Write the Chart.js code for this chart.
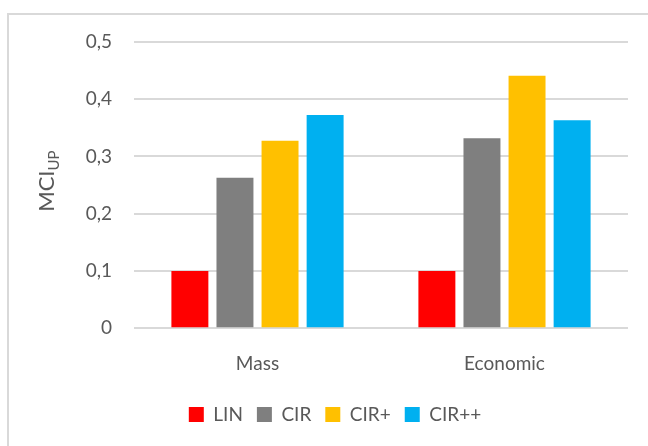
<!DOCTYPE html>
<html>
<head>
<meta charset="utf-8">
<script src="https://cdn.jsdelivr.net/npm/chart.js@4"></script>
<style>
  html,body{margin:0;padding:0;background:#fff;overflow:hidden}
  #wrap{position:relative;width:648px;height:446px}
  #frame{position:absolute;left:7px;top:13px;width:660px;height:460px;border:2px solid #d9d9d9;box-sizing:border-box}
  canvas{position:absolute;left:0;top:0}
</style>
</head>
<body>
<div id="wrap">
  <div id="frame"></div>
  <canvas id="chart" width="648" height="446"></canvas>
</div>
<script>
// datos
const categories = ["Mass", "Economic"];
const seriesNames = ["LIN", "CIR", "CIR+", "CIR++"];
const linVals = [0.1, 0.1];
const cirVals = [0.263, 0.332];
const cirPlusVals = [0.3275, 0.441];
const cirPPVals = [0.3725, 0.3635];
const yTickLabels = ["0", "0,1", "0,2", "0,3", "0,4", "0,5"];

const colors = ["#FF0000", "#7F7F7F", "#FFC000", "#00B0F0"];
const txt = "#595959";
const font = "Lato";

// titulo del eje y con subindice
const yTitle = {
  id: "yTitle",
  afterDraw(chart){
    const c = chart.ctx, a = chart.chartArea;
    c.save();
    c.translate(54, (a.top + a.bottom) / 2 - 4);
    c.rotate(-Math.PI / 2);
    c.fillStyle = txt;
    c.textBaseline = "alphabetic";
    c.font = "22px " + font;
    const w1 = c.measureText("MCI").width;
    c.font = "15px " + font;
    const w2 = c.measureText("UP").width;
    const x0 = -(w1 + w2) / 2;
    c.font = "22px " + font;
    c.fillText("MCI", x0, 0);
    c.font = "15px " + font;
    c.fillText("UP", x0 + w1, 5);
    c.restore();
  }
};

new Chart(document.getElementById("chart").getContext("2d"), {
  type: "bar",
  data: {
    labels: categories,
    datasets: [
      {label: seriesNames[0], data: linVals, backgroundColor: colors[0]},
      {label: seriesNames[1], data: cirVals, backgroundColor: colors[1]},
      {label: seriesNames[2], data: cirPlusVals, backgroundColor: colors[2]},
      {label: seriesNames[3], data: cirPPVals, backgroundColor: colors[3]}
    ]
  },
  options: {
    responsive: false,
    animation: false,
    layout: {padding: {left: 42, right: 20, top: 42, bottom: 12}},
    datasets: {bar: {barPercentage: 0.82, categoryPercentage: 0.73}},
    plugins: {
      tooltip: {enabled: false},
      legend: {
        position: "bottom",
        labels: {
          boxWidth: 15, boxHeight: 15, padding: 14,
          color: txt, font: {family: font, size: 19}
        }
      }
    },
    scales: {
      x: {
        grid: {display: false},
        border: {display: false},
        ticks: {color: txt, font: {family: font, size: 19}, padding: 16}
      },
      y: {
        min: 0, max: 0.5,
        afterFit(s){ s.width = 92; },
        grid: {color: "#d9d9d9", lineWidth: 2, drawTicks: false},
        border: {display: false},
        ticks: {
          stepSize: 0.1, color: txt, font: {family: font, size: 19}, padding: 22,
          callback: (v, i) => yTickLabels[i]
        }
      }
    }
  },
  plugins: [yTitle]
});
</script>
</body>
</html>
